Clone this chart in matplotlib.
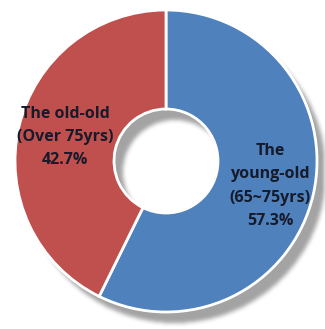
import numpy as np
import matplotlib
matplotlib.use("Agg")
import matplotlib.pyplot as plt

# Share of elderly population by age group
categories = ["The young-old\n(65~75yrs)", "The old-old\n(Over 75yrs)"]
shares = [57.3, 42.7]
colors = ["#4f81bd", "#c0504d"]

W, H = 325, 329
fig = plt.figure(figsize=(W / 100, H / 100), dpi=100)
ax = fig.add_axes([0, 0, 1, 1])

cx, cy = 166, H - 161
r_out, r_in = 151, 52
ring = (r_out - r_in) / r_out

# soft drop shadow of the ring, offset to the lower right
yy, xx = np.mgrid[0:H, 0:W]
sx, sy = cx + 9, (H - cy) + 11
d = np.hypot(xx + 0.5 - sx, yy + 0.5 - sy)
mask = ((d <= r_out) & (d >= r_in)).astype(float)
k = np.ones(5) / 5
for _ in range(2):
    mask = np.apply_along_axis(lambda v: np.convolve(v, k, mode="same"), 1, mask)
    mask = np.apply_along_axis(lambda v: np.convolve(v, k, mode="same"), 0, mask)
rgba = np.zeros((H, W, 4))
rgba[..., :3] = 0.64
rgba[..., 3] = mask
ax.imshow(rgba, extent=(0, W, 0, H), origin="upper", zorder=1, interpolation="bilinear")

wedges, _ = ax.pie(
    shares, colors=colors, startangle=90, counterclock=False,
    center=(cx, cy), radius=r_out, frame=True,
    wedgeprops=dict(width=r_out * ring, edgecolor="white", linewidth=2),
)
for w in wedges:
    w.set_zorder(2)
ax.set_xlim(0, W)
ax.set_ylim(0, H)
ax.axis("off")

txt = dict(ha="center", va="center", fontsize=11.5, fontweight="bold",
           color="#161b2b", family="Open Sans", linespacing=1.62, zorder=3)
ax.text(270, H - 186, f"The\nyoung-old\n(65~75yrs)\n{shares[0]:.1f}%", **txt)
ax.text(65, H - 137, f"The old-old\n(Over 75yrs)\n{shares[1]:.1f}%", **txt)

fig.savefig("out.png", dpi=100)
